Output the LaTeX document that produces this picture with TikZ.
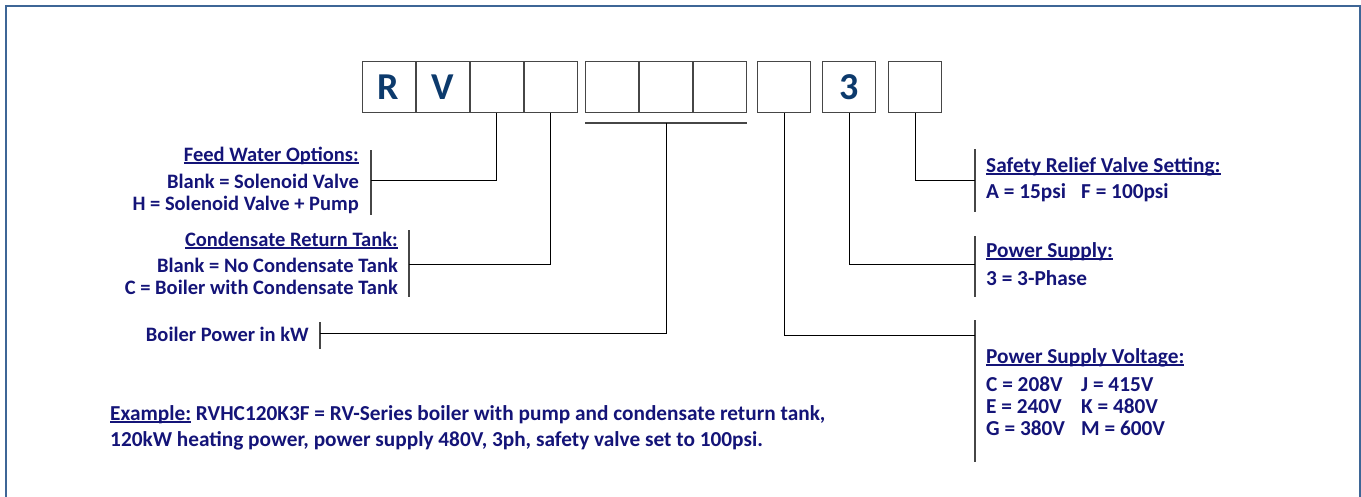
\documentclass[tikz,border=0pt]{standalone}
\usepackage{fontspec}
\setmainfont{Carlito}
\usetikzlibrary{positioning,calc}
\definecolor{navy}{RGB}{20,20,120}
\definecolor{codeblue}{RGB}{12,58,108}
\definecolor{framecol}{RGB}{62,102,150}
\definecolor{linecol}{RGB}{70,70,70}
\newcommand\ttl[1]{\setbox0\hbox{#1}\rlap{\rule[-2.6pt]{\wd0}{1.4pt}}\box0\relax}
\tikzset{
  codebox/.style={draw=linecol, line width=1pt, minimum width=53pt, minimum height=51pt,
    inner sep=0pt, font=\fontsize{38}{40}\selectfont\bfseries, text=codeblue},
  legend/.style={inner sep=0pt, font=\fontsize{20.5}{22}\selectfont\bfseries, text=navy},
  rlegend/.style={legend, font=\fontsize{21.3}{22}\selectfont\bfseries},
  lead/.style={draw=black, line width=0.9pt},
  bar/.style={draw=linecol, line width=1.2pt},
}
\begin{document}
\begin{tikzpicture}[x=1pt, y=-1pt]
  \useasboundingbox (0,0) rectangle (1361,496);
  % frame round the picture
  \draw[framecol, line width=2pt] (6,520) -- (6,6) -- (1360,6) -- (1360,520);

  % the code boxes
  \node[codebox] (b1) at (388.5,87) {R};
  \node[codebox, right=0pt of b1] (b2) {V};
  \node[codebox, right=0pt of b2] (b3) {};
  \node[codebox, right=0pt of b3] (b4) {};
  \node[codebox] (b5) at (612,87) {};
  \node[codebox, right=0pt of b5] (b6) {};
  \node[codebox, right=0pt of b6] (b7) {};
  \node[codebox] (b8) at (784,87) {};
  \node[codebox] (b9) at (849,87) {3};
  \node[codebox] (b10) at (915,87) {};

  % bracket under the power group
  \coordinate (brl) at ([yshift=-10pt]b5.south west);
  \coordinate (brr) at ([yshift=-10pt]b7.south east);
  \draw[bar] (brl) -- (brr);
  \coordinate (brm) at ($(brl)!0.5!(brr)$);

  % left legends
  \node[legend, anchor=base east] (feedT) at (359,161) {\ttl{Feed Water Options:}};
  \node[legend, anchor=base east] (feed1) at (359,188) {Blank = Solenoid Valve};
  \node[legend, anchor=base east] (feed2) at (359,210) {H = Solenoid Valve + Pump};
  \coordinate (feedB1) at (371,150);
  \coordinate (feedB2) at (371,215);
  \draw[bar] (feedB1) -- (feedB2);

  \node[legend, anchor=base east] (condT) at (398,246) {\ttl{Condensate Return Tank:}};
  \node[legend, anchor=base east] (cond1) at (398,272) {Blank = No Condensate Tank};
  \node[legend, anchor=base east] (cond2) at (398,294) {C = Boiler with Condensate Tank};
  \coordinate (condB1) at (409,230);
  \coordinate (condB2) at (409,297);
  \draw[bar] (condB1) -- (condB2);

  \node[legend, anchor=base east] (powT) at (309,341) {Boiler Power in kW};
  \coordinate (powB1) at (320,322);
  \coordinate (powB2) at (320,349);
  \draw[bar] (powB1) -- (powB2);

  % right legends
  \coordinate (safB1) at (975,149);
  \coordinate (safB2) at (975,212);
  \draw[bar] (safB1) -- (safB2);
  \node[rlegend, anchor=base west] (safT) at (986,172) {\ttl{Safety Relief Valve Setting:}};
  \node[rlegend, anchor=base west] (saf1) at (986,198) {A = 15psi};
  \node[rlegend, anchor=base west] (saf2) at (1081,198) {F = 100psi};

  \coordinate (supB1) at (975,236);
  \coordinate (supB2) at (975,297);
  \draw[bar] (supB1) -- (supB2);
  \node[rlegend, anchor=base west] (supT) at (986,257) {\ttl{Power Supply:}};
  \node[rlegend, anchor=base west] (sup1) at (986,285) {3 = 3-Phase};

  \coordinate (volB1) at (975,320);
  \coordinate (volB2) at (975,462);
  \draw[bar] (volB1) -- (volB2);
  \node[rlegend, anchor=base west] (volT) at (986,363) {\ttl{Power Supply Voltage:}};
  \foreach \y/\l/\r [count=\i] in {391/C = 208V/J = 415V, 413/E = 240V/K = 480V, 435/G = 380V/M = 600V} {
    \node[rlegend, anchor=base west] (volL\i) at (986,\y) {\l};
    \node[rlegend, anchor=base west] (volR\i) at (1081,\y) {\r};
  }

  % leads from the boxes to the legends
  \draw[lead] (b3.south) |- (feedB1 |- feed1.center);
  \draw[lead] (b4.south) |- (condB1 |- cond1.center);
  \draw[lead] (brm) |- (powB1 |- powT.center);
  \draw[lead] (b8.south) |- (volB1 |- 0,335);
  \draw[lead] (b9.south) |- (supB1 |- 0,264);
  \draw[lead] (b10.south) |- (safB1 |- 0,180);

  % example
  \node[rlegend, anchor=base west] (ex1) at (110,420) {\ttl{Example:} RVHC120K3F = RV-Series boiler with pump and condensate return tank,};
  \node[rlegend, anchor=base west] (ex2) at (110,446) {120kW heating power, power supply 480V, 3ph, safety valve set to 100psi.};
\end{tikzpicture}
\end{document}
